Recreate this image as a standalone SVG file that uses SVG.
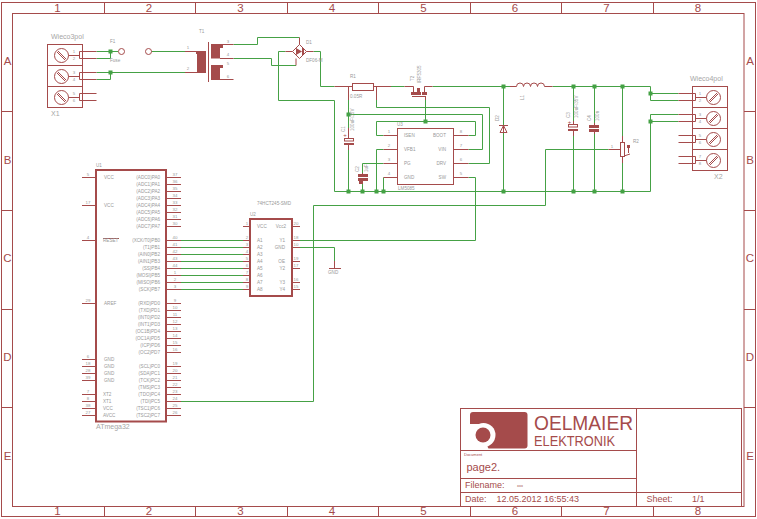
<svg xmlns="http://www.w3.org/2000/svg" width="757" height="519" viewBox="0 0 757 519">
<style>
svg{background:#fff}
text{font-family:"Liberation Sans",Arial,sans-serif}
.r{fill:none;stroke:#a54b4b;stroke-width:1}
.b{fill:none;stroke:#a54b4b;stroke-width:2}
.f{fill:#a54b4b;stroke:none}
.g{fill:none;stroke:#45a145;stroke-width:1}
.d{fill:#45a145;stroke:none}
.fr{font-size:11.5px;fill:#a54b4b;text-anchor:middle}
.tb{font-size:9px;fill:#a54b4b}
.tn{font-size:4px;fill:#a54b4b}
.n{font-size:7px;fill:#a6a6a6}
.s{font-size:4.6px;fill:#999}
.e{font-size:4.6px;fill:#999;text-anchor:end}
.p{font-size:4.4px;fill:#999;text-anchor:middle}
</style>
<defs>
<g id="screwA"><circle class="r" r="7"/><path class="r" d="M-4.5,-3.5L3.5,4.5M-3.5,-4.5L4.5,3.5"/></g>
<g id="screwB"><circle class="r" r="7"/><path class="r" d="M-4.5,3.5L3.5,-4.5M-3.5,4.5L4.5,-3.5"/></g>
</defs>

<g id="frame">
<rect class="r" x="1.5" y="2.5" width="754" height="514"/>
<rect class="r" x="12.5" y="13.5" width="731.5" height="493"/>
<path class="r" d="M104.5,2.5V13.5M195.5,2.5V13.5M287.5,2.5V13.5M378.5,2.5V13.5M470.5,2.5V13.5M561.5,2.5V13.5M653.5,2.5V13.5M104.5,506.5V516.5M195.5,506.5V516.5M287.5,506.5V516.5M378.5,506.5V516.5M470.5,506.5V516.5M561.5,506.5V516.5M653.5,506.5V516.5M1.5,111.5H12.5M1.5,210.5H12.5M1.5,309.5H12.5M1.5,407.5H12.5M744,111.5H755.5M744,210.5H755.5M744,309.5H755.5M744,407.5H755.5"/>
<text class="fr" x="57.5" y="11.5">1</text><text class="fr" x="149" y="11.5">2</text><text class="fr" x="240.5" y="11.5">3</text><text class="fr" x="332" y="11.5">4</text><text class="fr" x="423.5" y="11.5">5</text><text class="fr" x="515" y="11.5">6</text><text class="fr" x="606.5" y="11.5">7</text><text class="fr" x="698" y="11.5">8</text>
<text class="fr" x="57.5" y="514.5">1</text><text class="fr" x="149" y="514.5">2</text><text class="fr" x="240.5" y="514.5">3</text><text class="fr" x="332" y="514.5">4</text><text class="fr" x="423.5" y="514.5">5</text><text class="fr" x="515" y="514.5">6</text><text class="fr" x="606.5" y="514.5">7</text><text class="fr" x="698" y="514.5">8</text>
<text class="fr" x="7.5" y="65">A</text><text class="fr" x="7.5" y="163.5">B</text><text class="fr" x="7.5" y="262">C</text><text class="fr" x="7.5" y="361">D</text><text class="fr" x="7.5" y="460">E</text>
<text class="fr" x="750" y="65">A</text><text class="fr" x="750" y="163.5">B</text><text class="fr" x="750" y="262">C</text><text class="fr" x="750" y="361">D</text><text class="fr" x="750" y="460">E</text>
</g>

<g id="titleblock">
<rect class="r" x="460.5" y="408.5" width="281" height="98"/>
<path class="r" d="M636.5,408.5V506.5M460.5,450.5H636.5M460.5,478.5H636.5M460.5,492.5H741.5"/>
<rect class="f" x="470" y="412" width="57.5" height="36.5" rx="3"/>
<path fill="#fff" d="M469,424H483V449H469Z"/>
<circle cx="483.5" cy="435" r="12" fill="#fff"/>
<path fill="#fff" d="M483,436L489,450H470V436Z"/>
<circle class="f" cx="483" cy="435" r="7.5"/>
<text x="534" y="430" font-size="20" fill="#a54b4b" textLength="99" lengthAdjust="spacingAndGlyphs">OELMAIER</text>
<text x="534" y="446" font-size="14" fill="#a54b4b" textLength="81" lengthAdjust="spacingAndGlyphs">ELEKTRONIK</text>
<text class="tn" x="464" y="456">Document</text>
<text x="466.5" y="471" font-size="11" fill="#a54b4b">page2.</text>
<text class="tb" x="465" y="488">Filename:</text>
<text class="tn" x="517" y="487">xxx</text>
<text class="tb" x="465" y="502">Date:</text>
<text class="tb" x="496.5" y="502">12.05.2012 16:55:43</text>
<text class="tb" x="646.5" y="502">Sheet:</text>
<text class="tb" x="692" y="502">1/1</text>
</g>

<g id="wires">
<path class="g" d="M96.5,51.5H118M96.5,58.5H110.5V51.5M96.5,72.5H186M96.5,79.5H110.5V72.5M151.5,51.5H186"/>
<path class="g" d="M233.5,44.5H257.5V37.5H299.5M233.5,58.5H271.5V65.5H296"/>
<path class="g" d="M313.5,51.5H320.5V86.5H334.5M285.5,51.5H278.5V100.5H334.5V191.5H650.5V114.5H678.5M650.5,121.5H678.5"/>
<path class="g" d="M391,86.5H404.5M432.5,86.5H510M552.5,86.5H650.5V100.5H678.5M650.5,93.5H678.5"/>
<path class="g" d="M348.5,100V128M348.5,114.5H482.5V149.5H468.5M348.5,150V191.5"/>
<path class="g" d="M376.5,100V107.5H489.5V163.5H468.5"/>
<path class="g" d="M425.5,100V121.5M376.5,121.5H475.5V135.5H468.5M376.5,121.5V135.5H383.5M376.5,149.5H383.5M376.5,149.5V191.5"/>
<path class="g" d="M383.5,163.5H362.5V173M362.5,184V191.5M383.5,177.5V191.5"/>
<path class="g" d="M468.5,177.5H475.5V240.5H300"/>
<path class="g" d="M503.5,86.5V125M503.5,133V191.5M573.5,86.5V121M573.5,136V191.5M594.5,86.5V123M594.5,134V191.5M622.5,86.5V136M622.5,163V191.5"/>
<path class="g" d="M313.5,401.5V205.5H545.5V149.5H608.5"/>
<path class="g" d="M300,247.5H334.5V261"/>
<path class="g" d="M181,240.5H243M181,247.5H243M181,254.5H243M181,261.5H243M181,268.5H243M181,275.5H243M181,282.5H243M181,289.5H243M181,401.5H313.5"/>
<g class="d">
<rect x="108.5" y="49.5" width="4" height="4"/><rect x="108.5" y="70.5" width="4" height="4"/>
<rect x="346.5" y="112.5" width="4" height="4"/><rect x="423.5" y="119.5" width="4" height="4"/>
<rect x="346.5" y="189.5" width="4" height="4"/><rect x="360.5" y="189.5" width="4" height="4"/><rect x="374.5" y="189.5" width="4" height="4"/><rect x="381.5" y="189.5" width="4" height="4"/>
<rect x="501.5" y="84.5" width="4" height="4"/><rect x="501.5" y="189.5" width="4" height="4"/>
<rect x="571.5" y="84.5" width="4" height="4"/><rect x="571.5" y="189.5" width="4" height="4"/>
<rect x="592.5" y="84.5" width="4" height="4"/><rect x="592.5" y="189.5" width="4" height="4"/>
<rect x="620.5" y="84.5" width="4" height="4"/><rect x="620.5" y="189.5" width="4" height="4"/>
<rect x="648.5" y="91.5" width="4" height="4"/><rect x="648.5" y="119.5" width="4" height="4"/>
</g>
</g>

<g id="X1">
<rect class="r" x="47.5" y="44.5" width="35" height="63"/>
<path class="r" d="M47.5,65.5H82.5M47.5,86.5H82.5"/>
<use href="#screwA" x="61.5" y="55.5"/><use href="#screwA" x="61.5" y="76.5"/><use href="#screwA" x="61.5" y="97.5"/>
<path class="r" d="M68.5,55.5H79.5M79.5,51.5V58.5M79.5,51.5H96.5M79.5,58.5H96.5M68.5,76.5H79.5M79.5,72.5V79.5M79.5,72.5H96.5M79.5,79.5H96.5M68.5,97.5H79.5M79.5,93.5V100.5M79.5,93.5H96.5M79.5,100.5H96.5"/>
<text class="n" x="51" y="39">Wieco3pol</text><text class="n" x="51" y="116">X1</text>
<text class="p" x="74" y="53">1</text><text class="p" x="74" y="60">2</text><text class="p" x="74" y="74">3</text><text class="p" x="74" y="81">4</text><text class="p" x="74" y="95">5</text><text class="p" x="74" y="102">6</text>
</g>

<g id="F1">
<circle class="r" cx="121.5" cy="51.5" r="3"/><circle class="r" cx="148.5" cy="51.5" r="3"/>
<text class="s" x="110" y="43">F1</text><text class="s" x="110" y="62">Fuse</text>
</g>

<g id="TR1">
<path class="f" d="M196,51H206V73H197V54H196Z"/>
<path class="r" d="M185,51.5H197M185,72.5H197M208.5,42V82"/>
<path class="f" d="M211,44H223V48H220V58.5H211ZM211,65H223V68H220V80H211Z"/>
<path class="r" d="M220,44.5H233.5M220,58.5H233.5M220,79.5H233.5"/>
<text class="s" x="199" y="33">T1</text>
<text class="p" x="188" y="49">1</text><text class="p" x="188" y="70">2</text>
<text class="p" x="228" y="43">3</text><text class="p" x="228" y="56">4</text><text class="p" x="228" y="65">5</text><text class="p" x="228" y="78">6</text>
</g>

<g id="B1">
<path class="r" d="M299.5,44.5L306.5,51.5L299.5,58.5L292.5,51.5Z"/>
<path class="f" d="M296,48L302,51.5L296,55ZM302,48H304V55H302Z"/>
<path class="r" d="M285.5,51.5H292.5M306.5,51.5H313.5M299.5,37.5V44.5M296,58.5V65.5"/>
<text class="s" x="306" y="44">D1</text><text class="s" x="306" y="62">DF06-M</text>
</g>

<g id="R1">
<rect class="r" x="352.5" y="83.5" width="21" height="7"/>
<path class="r" d="M334.5,86.5H352.5M373.5,86.5H391M348.5,86.5V100M376.5,86.5V100"/>
<text class="s" x="350" y="78">R1</text><text class="s" x="350" y="98">0.05R</text>
</g>

<g id="T1">
<rect class="f" x="411" y="92" width="10" height="3"/><rect class="f" x="422" y="92" width="5" height="3"/>
<path class="f" d="M417,88H420V92H417Z"/>
<path class="r" d="M404.5,86.5H413.5V92M432.5,86.5H424.5V92M412,96.5H426M425.5,96.5V100"/>
<text class="s" transform="translate(414,81) rotate(-90)">T2</text>
<text class="s" transform="translate(421,83) rotate(-90)">IRF5305</text>
</g>

<g id="C1">
<rect class="r" x="344.5" y="138.5" width="9" height="2.5"/><rect class="f" x="344" y="143" width="10" height="2"/>
<path class="r" d="M348.5,128V138.5M348.5,145V150"/>
<text x="345" y="137" font-size="6" fill="#a54b4b" text-anchor="middle">+</text>
<text class="s" transform="translate(345,132) rotate(-90)">C1</text>
<text class="s" transform="translate(354,131) rotate(-90)">100uF/35V</text>
</g>

<g id="C2">
<rect class="f" x="358" y="174" width="10" height="3"/><rect class="f" x="358" y="178" width="10" height="3"/><rect class="f" x="359" y="181" width="4" height="3"/>
<path class="r" d="M362.5,173V174"/>
<text class="s" transform="translate(359,172) rotate(-90)">C2</text>
<text class="s" transform="translate(368,172) rotate(-90)">1uF</text>
</g>

<g id="U3">
<rect class="r" x="397.5" y="128.5" width="56" height="56"/>
<path class="r" d="M383.5,135.5H397.5M383.5,149.5H397.5M383.5,163.5H397.5M383.5,177.5H397.5M453.5,135.5H468.5M453.5,149.5H468.5M453.5,163.5H468.5M453.5,177.5H468.5"/>
<text class="s" x="404" y="137">ISEN</text><text class="s" x="404" y="151">VFB1</text><text class="s" x="404" y="165">PG</text><text class="s" x="404" y="179">GND</text>
<text class="e" x="446" y="137">BOOT</text><text class="e" x="446" y="151">VIN</text><text class="e" x="446" y="165">DRV</text><text class="e" x="446" y="179">SW</text>
<text class="s" x="398" y="190">LM5085</text><text class="s" x="397" y="126">U3</text>
<text class="p" x="389" y="133">1</text><text class="p" x="389" y="147">2</text><text class="p" x="389" y="161">3</text><text class="p" x="389" y="175">4</text>
<text class="p" x="461" y="133">8</text><text class="p" x="461" y="147">7</text><text class="p" x="461" y="161">6</text><text class="p" x="461" y="175">5</text>
</g>

<g id="D2">
<path class="r" d="M499,125.5H508M503.5,125.5L500,132.5H507Z"/>
<path class="r" d="M503.5,125V133"/>
<text class="s" transform="translate(499,121) rotate(-90)">D2</text>
</g>

<g id="L1">
<path class="r" d="M510,86.5H516.5A3.5,3.5 0 0 1 523.5,86.5A3.5,3.5 0 0 1 530.5,86.5A3.5,3.5 0 0 1 537.5,86.5A3.5,3.5 0 0 1 544.5,86.5H552.5"/>
<text class="s" transform="translate(524,100) rotate(-90)">L1</text>
</g>

<g id="C3">
<rect class="r" x="568.5" y="124.5" width="9" height="2.5"/><rect class="f" x="568" y="129" width="10" height="2"/>
<path class="r" d="M573.5,121V124.5M573.5,131V136"/>
<text x="569.5" y="124" font-size="6" fill="#a54b4b" text-anchor="middle">+</text>
<text class="s" transform="translate(570,118) rotate(-90)">C3</text>
<text class="s" transform="translate(578,118) rotate(-90)">100uF/35V</text>
</g>

<g id="C4">
<rect class="f" x="589" y="125" width="10" height="3"/><rect class="f" x="589" y="129" width="10" height="3"/>
<path class="r" d="M594.5,123V125M594.5,132V134"/>
<text class="s" transform="translate(591,121) rotate(-90)">C4</text>
<text class="s" transform="translate(599,121) rotate(-90)">100n</text>
</g>

<g id="R2">
<rect class="r" x="620.5" y="142.5" width="4" height="14"/>
<path class="r" d="M622.5,136V142.5M622.5,156.5V163M608.5,149.5H620.5M624,156L630,154"/>
<rect class="f" x="627" y="145" width="3" height="3"/>
<path class="r" d="M628.5,148V153"/>
<text class="s" x="633" y="143">R2</text><text class="p" x="612" y="148">1</text>
</g>

<g id="X2">
<rect class="r" x="692.5" y="86.5" width="35" height="84"/>
<path class="r" d="M692.5,107.5H727.5M692.5,128.5H727.5M692.5,149.5H727.5"/>
<use href="#screwB" x="713.5" y="97.5"/><use href="#screwB" x="713.5" y="118.5"/><use href="#screwB" x="713.5" y="139.5"/><use href="#screwB" x="713.5" y="160.5"/>
<path class="r" d="M706.5,97.5H695.5M695.5,93.5V100.5M695.5,93.5H678.5M695.5,100.5H678.5M706.5,118.5H695.5M695.5,114.5V121.5M695.5,114.5H678.5M695.5,121.5H678.5M706.5,139.5H695.5M695.5,135.5V142.5M695.5,135.5H678.5M695.5,142.5H678.5M706.5,160.5H695.5M695.5,156.5V163.5M695.5,156.5H678.5M695.5,163.5H678.5"/>
<text class="n" x="690" y="81">Wieco4pol</text><text class="n" x="714" y="179">X2</text>
<text class="p" x="700" y="95">1</text><text class="p" x="700" y="102">2</text><text class="p" x="700" y="116">3</text><text class="p" x="700" y="123">4</text><text class="p" x="700" y="137">5</text><text class="p" x="700" y="144">6</text><text class="p" x="700" y="158">7</text><text class="p" x="700" y="165">8</text>
</g>

<g id="U1">
<rect class="b" x="96" y="170" width="70" height="251.5"/>
<path class="r" d="M82,177.5H96M82,205.5H96M82,240.5H96M82,303.5H96M82,359.5H96M82,366.5H96M82,373.5H96M82,380.5H96M82,394.5H96M82,401.5H96M82,408.5H96M82,415.5H96"/>
<path class="r" d="M166,177.5H181M166,184.5H181M166,191.5H181M166,198.5H181M166,205.5H181M166,212.5H181M166,219.5H181M166,226.5H181M166,240.5H181M166,247.5H181M166,254.5H181M166,261.5H181M166,268.5H181M166,275.5H181M166,282.5H181M166,289.5H181M166,303.5H181M166,310.5H181M166,317.5H181M166,324.5H181M166,331.5H181M166,338.5H181M166,345.5H181M166,352.5H181M166,366.5H181M166,373.5H181M166,380.5H181M166,387.5H181M166,394.5H181M166,401.5H181M166,408.5H181M166,415.5H181"/>
<path class="r" d="M103,238.5H119" stroke="#999"/>
<text class="s" x="104" y="179">VCC</text><text class="s" x="104" y="207">VCC</text><text class="s" x="103" y="242">RESET</text><text class="s" x="104" y="305">AREF</text>
<text class="s" x="104" y="361">GND</text><text class="s" x="104" y="368">GND</text><text class="s" x="104" y="375">GND</text><text class="s" x="104" y="382">GND</text>
<text class="s" x="103" y="396">XT2</text><text class="s" x="103" y="403">XT1</text><text class="s" x="103" y="410">VCC</text><text class="s" x="103" y="417">AVCC</text>
<text class="e" x="160" y="179">(ADC0)PA0</text><text class="e" x="160" y="186">(ADC1)PA1</text><text class="e" x="160" y="193">(ADC2)PA2</text><text class="e" x="160" y="200">(ADC3)PA3</text><text class="e" x="160" y="207">(ADC4)PA4</text><text class="e" x="160" y="214">(ADC5)PA5</text><text class="e" x="160" y="221">(ADC6)PA6</text><text class="e" x="160" y="228">(ADC7)PA7</text>
<text class="e" x="160" y="242">(XCK/T0)PB0</text><text class="e" x="160" y="249">(T1)PB1</text><text class="e" x="160" y="256">(AIN0)PB2</text><text class="e" x="160" y="263">(AIN1)PB3</text><text class="e" x="160" y="270">(SS)PB4</text><text class="e" x="160" y="277">(MOSI)PB5</text><text class="e" x="160" y="284">(MISO)PB6</text><text class="e" x="160" y="291">(SCK)PB7</text>
<text class="e" x="160" y="305">(RXD)PD0</text><text class="e" x="160" y="312">(TXD)PD1</text><text class="e" x="160" y="319">(INT0)PD2</text><text class="e" x="160" y="326">(INT1)PD3</text><text class="e" x="160" y="333">(OC1B)PD4</text><text class="e" x="160" y="340">(OC1A)PD5</text><text class="e" x="160" y="347">(ICP)PD6</text><text class="e" x="160" y="354">(OC2)PD7</text>
<text class="e" x="160" y="368">(SCL)PC0</text><text class="e" x="160" y="375">(SDA)PC1</text><text class="e" x="160" y="382">(TCK)PC2</text><text class="e" x="160" y="389">(TMS)PC3</text><text class="e" x="160" y="396">(TDO)PC4</text><text class="e" x="160" y="403">(TDI)PC5</text><text class="e" x="160" y="410">(TSC1)PC6</text><text class="e" x="160" y="417">(TSC2)PC7</text>
<text class="n" x="96" y="429" font-size="6">ATmega32</text>
<text class="s" x="96" y="167">U1</text>
<text class="p" x="88" y="176">5</text><text class="p" x="88" y="204">17</text><text class="p" x="88" y="239">4</text><text class="p" x="88" y="302">29</text><text class="p" x="88" y="358">6</text><text class="p" x="88" y="365">18</text><text class="p" x="88" y="372">28</text><text class="p" x="88" y="379">39</text><text class="p" x="88" y="393">7</text><text class="p" x="88" y="400">8</text><text class="p" x="88" y="407">38</text><text class="p" x="88" y="414">27</text>
<text class="p" x="175" y="176">37</text><text class="p" x="175" y="183">36</text><text class="p" x="175" y="190">35</text><text class="p" x="175" y="197">34</text><text class="p" x="175" y="204">33</text><text class="p" x="175" y="211">32</text><text class="p" x="175" y="218">31</text><text class="p" x="175" y="225">30</text>
<text class="p" x="175" y="239">40</text><text class="p" x="175" y="246">41</text><text class="p" x="175" y="253">42</text><text class="p" x="175" y="260">43</text><text class="p" x="175" y="267">44</text><text class="p" x="175" y="274">1</text><text class="p" x="175" y="281">2</text><text class="p" x="175" y="288">3</text>
<text class="p" x="175" y="302">9</text><text class="p" x="175" y="309">10</text><text class="p" x="175" y="316">11</text><text class="p" x="175" y="323">12</text><text class="p" x="175" y="330">13</text><text class="p" x="175" y="337">14</text><text class="p" x="175" y="344">15</text><text class="p" x="175" y="351">16</text>
<text class="p" x="175" y="365">19</text><text class="p" x="175" y="372">20</text><text class="p" x="175" y="379">21</text><text class="p" x="175" y="386">22</text><text class="p" x="175" y="393">23</text><text class="p" x="175" y="400">24</text><text class="p" x="175" y="407">25</text><text class="p" x="175" y="414">26</text>
</g>

<g id="U2">
<rect class="b" x="250" y="219" width="42" height="77"/>
<path class="r" d="M243,226.5H250M243,240.5H250M243,247.5H250M243,254.5H250M243,261.5H250M243,268.5H250M243,275.5H250M243,282.5H250M243,289.5H250M292,226.5H300M292,240.5H300M292,247.5H300M292,261.5H300M292,268.5H300M292,282.5H300M292,289.5H300"/>
<text class="s" x="257" y="205">74HCT245-SMD</text><text class="s" x="250" y="216">U2</text>
<text class="s" x="257" y="228">VCC</text><text class="s" x="257" y="242">A1</text><text class="s" x="257" y="249">A2</text><text class="s" x="257" y="256">A3</text><text class="s" x="257" y="263">A4</text><text class="s" x="257" y="270">A5</text><text class="s" x="257" y="277">A6</text><text class="s" x="257" y="284">A7</text><text class="s" x="257" y="291">A8</text>
<text class="e" x="286" y="228">Vcc2</text><text class="e" x="285" y="242">Y1</text><text class="e" x="285" y="249">GND</text><text class="e" x="285" y="263">OE</text><text class="e" x="285" y="270">Y2</text><text class="e" x="285" y="284">Y3</text><text class="e" x="285" y="291">Y4</text>
<text class="p" x="296" y="225">20</text><text class="p" x="296" y="239">18</text><text class="p" x="296" y="246">10</text><text class="p" x="296" y="260">19</text><text class="p" x="296" y="267">17</text><text class="p" x="296" y="281">16</text><text class="p" x="296" y="288">15</text>
<text class="p" x="247" y="225">1</text><text class="p" x="247" y="239">2</text><text class="p" x="247" y="246">3</text><text class="p" x="247" y="253">4</text><text class="p" x="247" y="260">5</text><text class="p" x="247" y="267">6</text><text class="p" x="247" y="274">7</text><text class="p" x="247" y="281">8</text><text class="p" x="247" y="288">9</text>
</g>

<g id="GND">
<path class="r" d="M334.5,261V268.5M329,268.5H341"/>
<text class="s" x="328" y="274">GND</text>
</g>
</svg>
